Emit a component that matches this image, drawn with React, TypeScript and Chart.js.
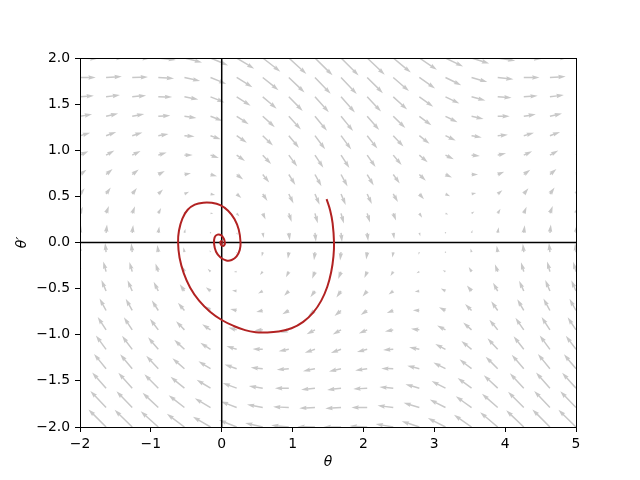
import { useEffect, useRef } from "react";
import { Chart, registerables } from "chart.js";

Chart.register(...registerables);

// Quiver sample grid (tails of arrows)
const thetaGrid = [-2.0, -1.632, -1.263, -0.895, -0.526, -0.158, 0.211, 0.579, 0.947, 1.316, 1.684, 2.053, 2.421, 2.789, 3.158, 3.526, 3.895, 4.263, 4.632, 5.0];
const omegaGrid = [-2.0, -1.789, -1.579, -1.368, -1.158, -0.947, -0.737, -0.526, -0.316, -0.105, 0.105, 0.316, 0.526, 0.737, 0.947, 1.158, 1.368, 1.579, 1.789, 2.0];

// Horizontal arrow component for each row (bottom to top)
const fieldU = [-2.0, -1.79, -1.58, -1.37, -1.16, -0.95, -0.74, -0.53, -0.32, -0.11, 0.11, 0.32, 0.53, 0.74, 0.95, 1.16, 1.37, 1.58, 1.79, 2.0];

// Vertical arrow component, one row per omegaGrid value, one entry per thetaGrid value
const fieldV = [
  [1.91, 2.0, 1.95, 1.78, 1.5, 1.16, 0.79, 0.45, 0.19, 0.03, 0.01, 0.11, 0.34, 0.66, 1.02, 1.38, 1.68, 1.9, 2.0, 1.96],
  [1.8, 1.89, 1.85, 1.67, 1.4, 1.05, 0.69, 0.35, 0.08, -0.07, -0.1, 0.01, 0.23, 0.55, 0.91, 1.27, 1.58, 1.8, 1.89, 1.85],
  [1.7, 1.79, 1.74, 1.57, 1.29, 0.95, 0.58, 0.24, -0.02, -0.18, -0.2, -0.1, 0.13, 0.44, 0.81, 1.16, 1.47, 1.69, 1.79, 1.75],
  [1.59, 1.68, 1.64, 1.46, 1.19, 0.84, 0.48, 0.14, -0.13, -0.28, -0.31, -0.2, 0.02, 0.34, 0.7, 1.06, 1.37, 1.59, 1.68, 1.64],
  [1.49, 1.58, 1.53, 1.36, 1.08, 0.74, 0.37, 0.03, -0.23, -0.39, -0.41, -0.31, -0.08, 0.23, 0.6, 0.95, 1.26, 1.48, 1.58, 1.54],
  [1.38, 1.47, 1.43, 1.25, 0.98, 0.63, 0.26, -0.07, -0.34, -0.49, -0.52, -0.41, -0.19, 0.13, 0.49, 0.85, 1.16, 1.37, 1.47, 1.43],
  [1.28, 1.37, 1.32, 1.15, 0.87, 0.53, 0.16, -0.18, -0.44, -0.6, -0.63, -0.52, -0.29, 0.02, 0.38, 0.74, 1.05, 1.27, 1.37, 1.33],
  [1.17, 1.26, 1.22, 1.04, 0.77, 0.42, 0.05, -0.28, -0.55, -0.7, -0.73, -0.62, -0.4, -0.08, 0.28, 0.64, 0.95, 1.16, 1.26, 1.22],
  [1.07, 1.16, 1.11, 0.94, 0.66, 0.32, -0.05, -0.39, -0.65, -0.81, -0.84, -0.73, -0.5, -0.19, 0.17, 0.53, 0.84, 1.06, 1.15, 1.12],
  [0.96, 1.05, 1.01, 0.83, 0.55, 0.21, -0.16, -0.49, -0.76, -0.92, -0.94, -0.83, -0.61, -0.29, 0.07, 0.43, 0.74, 0.95, 1.05, 1.01],
  [0.86, 0.95, 0.9, 0.73, 0.45, 0.1, -0.26, -0.6, -0.86, -1.02, -1.05, -0.94, -0.71, -0.4, -0.04, 0.32, 0.63, 0.85, 0.94, 0.91],
  [0.75, 0.84, 0.8, 0.62, 0.34, 0.0, -0.37, -0.71, -0.97, -1.13, -1.15, -1.04, -0.82, -0.5, -0.14, 0.22, 0.53, 0.74, 0.84, 0.8],
  [0.65, 0.74, 0.69, 0.52, 0.24, -0.11, -0.47, -0.81, -1.08, -1.23, -1.26, -1.15, -0.92, -0.61, -0.25, 0.11, 0.42, 0.64, 0.73, 0.7],
  [0.54, 0.63, 0.58, 0.41, 0.13, -0.21, -0.58, -0.92, -1.18, -1.34, -1.36, -1.25, -1.03, -0.71, -0.35, 0.01, 0.32, 0.53, 0.63, 0.59],
  [0.44, 0.52, 0.48, 0.31, 0.03, -0.32, -0.68, -1.02, -1.29, -1.44, -1.47, -1.36, -1.13, -0.82, -0.46, -0.1, 0.21, 0.43, 0.52, 0.49],
  [0.33, 0.42, 0.37, 0.2, -0.08, -0.42, -0.79, -1.13, -1.39, -1.55, -1.57, -1.47, -1.24, -0.92, -0.56, -0.2, 0.1, 0.32, 0.42, 0.38],
  [0.23, 0.31, 0.27, 0.1, -0.18, -0.53, -0.89, -1.23, -1.5, -1.65, -1.68, -1.57, -1.34, -1.03, -0.67, -0.31, 0.0, 0.22, 0.31, 0.27],
  [0.12, 0.21, 0.16, -0.01, -0.29, -0.63, -1.0, -1.34, -1.6, -1.76, -1.78, -1.68, -1.45, -1.13, -0.77, -0.41, -0.11, 0.11, 0.21, 0.17],
  [0.01, 0.1, 0.06, -0.11, -0.39, -0.74, -1.1, -1.44, -1.71, -1.86, -1.89, -1.78, -1.55, -1.24, -0.88, -0.52, -0.21, 0.01, 0.1, 0.06],
  [-0.09, 0.0, -0.05, -0.22, -0.5, -0.84, -1.21, -1.55, -1.81, -1.97, -1.99, -1.89, -1.66, -1.34, -0.98, -0.62, -0.32, -0.1, 0.0, -0.04],
];

// Trajectory
const trajTheta = [1.48, 1.53, 1.565, 1.585, 1.577, 1.545, 1.49, 1.405, 1.29, 1.15, 0.985, 0.8, 0.62, 0.48, 0.33, 0.17, 0.0, -0.165, -0.32, -0.445, -0.535, -0.595, -0.616, -0.603, -0.555, -0.48, -0.38, -0.26, -0.14, -0.02, 0.09, 0.18, 0.24, 0.266, 0.255, 0.21, 0.14, 0.065, -0.02, -0.08, -0.108, -0.1, -0.06, -0.01, 0.03, 0.045, 0.035, 0.01, -0.012, -0.02, -0.012, 0.002, 0.008, 0.003, 0.0];
const trajOmega = [0.47, 0.35, 0.21, 0.0, -0.15, -0.32, -0.48, -0.63, -0.76, -0.86, -0.93, -0.965, -0.975, -0.972, -0.95, -0.905, -0.84, -0.75, -0.63, -0.49, -0.335, -0.165, 0.0, 0.13, 0.26, 0.355, 0.41, 0.432, 0.43, 0.405, 0.345, 0.255, 0.14, 0.0, -0.08, -0.15, -0.19, -0.195, -0.16, -0.1, -0.015, 0.055, 0.085, 0.08, 0.04, -0.005, -0.03, -0.036, -0.022, 0.0, 0.013, 0.012, 0.0, -0.004, 0.0];

const xTicks = [-2, -1, 0, 1, 2, 3, 4, 5];
const yTicks = [-2.0, -1.5, -1.0, -0.5, 0.0, 0.5, 1.0, 1.5, 2.0];

const ARROW_COLOR = "#c8c8c8";
const PX_PER_UNIT = 8.8;
const SHAFT = 1.49;

function minus(s: string) {
  return s.replace("-", "\u2212");
}

function drawArrow(ctx: CanvasRenderingContext2D, x0: number, y0: number, dx: number, dy: number) {
  const lpx = Math.hypot(dx, dy);
  const L = lpx / SHAFT;
  let pts: number[][];
  if (L < 1) {
    pts = [];
    for (let k = 0; k < 7; k++) {
      const th = (k * Math.PI) / 3;
      pts.push([Math.cos(th) * 0.5, Math.sin(th) * 0.5]);
    }
  } else if (L < 5) {
    const s = L / 5;
    pts = [[0, 0.5], [0.5, 0.5], [0, 1.5], [5, 0], [0, -1.5], [0.5, -0.5], [0, -0.5]].map(([a, b]) => [a * s, b * s]);
  } else {
    pts = [[0, 0.5], [L - 4.5, 0.5], [L - 5, 1.5], [L, 0], [L - 5, -1.5], [L - 4.5, -0.5], [0, -0.5]];
  }
  const c = lpx > 0 ? dx / lpx : 1;
  const sn = lpx > 0 ? dy / lpx : 0;
  ctx.beginPath();
  pts.forEach(([a, b], k) => {
    const X = x0 + (a * c - b * sn) * SHAFT;
    const Y = y0 + (a * sn + b * c) * SHAFT;
    if (k === 0) ctx.moveTo(X, Y);
    else ctx.lineTo(X, Y);
  });
  ctx.closePath();
  ctx.fill();
}

const backgroundPlugin = {
  id: "quiverAndAxes",
  beforeDatasetsDraw(chart: any) {
    const { ctx, chartArea, scales } = chart;
    const xs = scales.x;
    const ys = scales.y;
    ctx.save();
    ctx.beginPath();
    ctx.rect(chartArea.left, chartArea.top, chartArea.right - chartArea.left, chartArea.bottom - chartArea.top);
    ctx.clip();
    ctx.fillStyle = ARROW_COLOR;
    for (let i = 0; i < omegaGrid.length; i++) {
      for (let j = 0; j < thetaGrid.length; j++) {
        const px = xs.getPixelForValue(thetaGrid[j]);
        const py = ys.getPixelForValue(omegaGrid[i]);
        drawArrow(ctx, px, py, fieldU[i] * PX_PER_UNIT, -fieldV[i][j] * PX_PER_UNIT);
      }
    }
    // reference lines theta = 0 and theta' = 0
    ctx.strokeStyle = "#000";
    ctx.lineWidth = 1.5;
    const x0 = xs.getPixelForValue(0);
    const y0 = ys.getPixelForValue(0);
    ctx.beginPath();
    ctx.moveTo(x0, chartArea.top);
    ctx.lineTo(x0, chartArea.bottom);
    ctx.moveTo(chartArea.left, y0);
    ctx.lineTo(chartArea.right, y0);
    ctx.stroke();
    ctx.restore();
  },
  afterDraw(chart: any) {
    const { ctx, chartArea } = chart;
    ctx.save();
    ctx.strokeStyle = "#000";
    ctx.lineWidth = 1;
    const l = Math.floor(chartArea.left) + 0.5;
    const t = Math.floor(chartArea.top) + 0.5;
    const r = Math.floor(chartArea.right) + 0.5;
    const b = Math.floor(chartArea.bottom) + 0.5;
    ctx.strokeRect(l, t, r - l, b - t);
    ctx.restore();
  },
};

export default function App() {
  const ref = useRef<HTMLCanvasElement | null>(null);
  useEffect(() => {
    document.body.style.margin = "0";
    const canvas = ref.current;
    if (!canvas) return;
    const tickFont = { family: "'DejaVu Sans', sans-serif", size: 13.9 };
    const titleFont = { family: "'DejaVu Sans', sans-serif", size: 13.9, style: "italic" as const };
    const chart = new Chart(canvas, {
      type: "scatter",
      data: {
        datasets: [
          {
            data: trajTheta.map((t, k) => ({ x: t, y: trajOmega[k] })),
            showLine: true,
            borderColor: "#b22222",
            borderWidth: 2,
            pointRadius: 0,
            tension: 0.4,
            fill: false,
          },
        ],
      },
      options: {
        animation: false,
        responsive: false,
        devicePixelRatio: 1,
        layout: { padding: { top: 58, right: 64, left: 0, bottom: 0 } },
        plugins: { legend: { display: false }, tooltip: { enabled: false } },
        scales: {
          x: {
            type: "linear",
            min: -2,
            max: 5,
            afterBuildTicks: (s: any) => {
              s.ticks = xTicks.map((v) => ({ value: v }));
            },
            afterFit: (s: any) => {
              s.height = 53;
            },
            ticks: {
              font: tickFont,
              color: "#000",
              padding: 4,
              maxRotation: 0,
              callback: (v: any) => minus(String(v)),
            },
            grid: { drawOnChartArea: false, drawTicks: true, tickLength: 5, color: "#000", lineWidth: 1 },
            border: { display: false },
            title: { display: true, text: "θ", font: titleFont, color: "#000", padding: { top: 0, bottom: 9 } },
          },
          y: {
            type: "linear",
            min: -2,
            max: 2,
            afterBuildTicks: (s: any) => {
              s.ticks = yTicks.map((v) => ({ value: v }));
            },
            afterFit: (s: any) => {
              s.width = 80;
            },
            ticks: {
              font: tickFont,
              color: "#000",
              padding: 5,
              callback: (v: any) => minus(Number(v).toFixed(1)),
            },
            grid: { drawOnChartArea: false, drawTicks: true, tickLength: 5, color: "#000", lineWidth: 1 },
            border: { display: false },
            title: { display: true, text: "θ′", font: titleFont, color: "#000", padding: { top: 14, bottom: 0 } },
          },
        },
      },
      plugins: [backgroundPlugin],
    });
    return () => chart.destroy();
  }, []);
  return <canvas ref={ref} width={640} height={480} style={{ display: "block" }} />;
}
